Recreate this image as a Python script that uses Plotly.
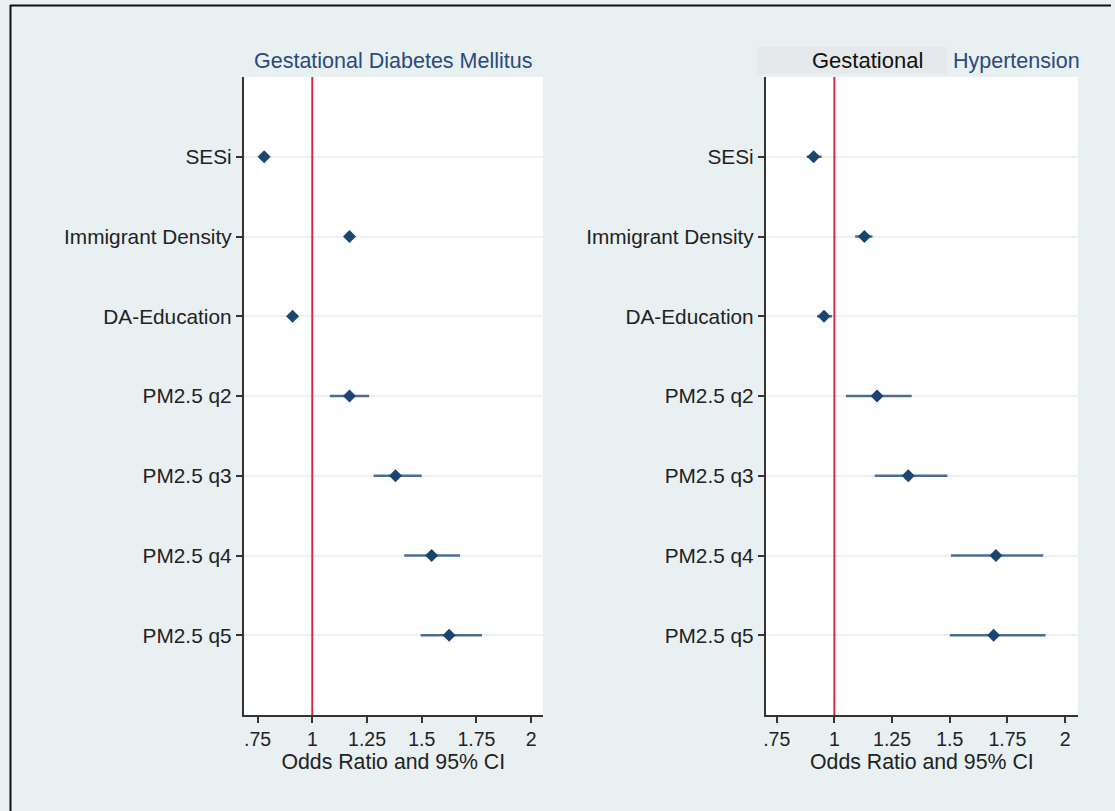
import plotly.graph_objects as go
from plotly.subplots import make_subplots

# Covariates shown on both panels (top to bottom)
covariates = ["SESi", "Immigrant Density", "DA-Education",
              "PM2.5 q2", "PM2.5 q3", "PM2.5 q4", "PM2.5 q5"]

# Gestational Diabetes Mellitus: odds ratios and 95% CI
gdm_or = [0.78, 1.17, 0.91, 1.17, 1.38, 1.545, 1.625]
gdm_lo = [0.77, 1.155, 0.90, 1.08, 1.28, 1.42, 1.495]
gdm_hi = [0.79, 1.185, 0.92, 1.26, 1.50, 1.675, 1.775]

# Gestational Hypertension: odds ratios and 95% CI
ght_or = [0.91, 1.13, 0.955, 1.185, 1.32, 1.70, 1.69]
ght_lo = [0.88, 1.09, 0.925, 1.05, 1.175, 1.505, 1.50]
ght_hi = [0.945, 1.165, 0.99, 1.335, 1.49, 1.905, 1.915]

tick_vals = [0.75, 1, 1.25, 1.5, 1.75, 2]
tick_text = [".75", "1", "1.25", "1.5", "1.75", "2"]

W, H = 1115, 811
NAVY = "#1a456f"
BAR = "#4d6d8e"
RED = "#d9264a"
BG = "#e8f0f2"
FONT = "Liberation Sans, Arial, sans-serif"

fig = make_subplots(rows=1, cols=2)

def add_panel(col, est, lo, hi):
    fig.add_trace(go.Scatter(
        x=est, y=covariates, mode="markers",
        marker=dict(symbol="diamond", size=10, color=NAVY),
        error_x=dict(type="data", symmetric=False,
                     array=[h - e for h, e in zip(hi, est)],
                     arrayminus=[e - l for e, l in zip(est, lo)],
                     color=BAR, thickness=2.5, width=0),
        showlegend=False, hoverinfo="x+y"), row=1, col=col)

add_panel(1, gdm_or, gdm_lo, gdm_hi)
add_panel(2, ght_or, ght_lo, ght_hi)

ydom = [1 - 715 / H, 1 - 77 / H]
axis_common = dict(
    tickmode="array", tickvals=tick_vals, ticktext=tick_text,
    ticks="outside", ticklen=6, tickwidth=1.5, tickcolor="#333",
    showline=True, linecolor="#333", linewidth=1.5, showgrid=False,
    zeroline=False, tickfont=dict(size=19.5, color="#222", family=FONT),
    title=dict(text="Odds Ratio and 95% CI",
               font=dict(size=21.3, color="#222", family=FONT), standoff=0),
)
fig.update_layout(
    xaxis=dict(domain=[242 / W, 542 / W], range=[0.686, 2.054], **axis_common),
    xaxis2=dict(domain=[765 / W, 1078 / W], range=[0.702, 2.056], **axis_common),
)
yaxis_common = dict(
    domain=ydom, type="category", categoryorder="array",
    categoryarray=covariates, range=[7, -1],
    ticks="outside", ticklen=6, tickwidth=1.5, tickcolor="#333",
    showline=True, linecolor="#333", linewidth=1.5,
    showgrid=True, gridcolor="#eaf2f2", gridwidth=1.5,
    tickfont=dict(size=20.8, color="#222", family=FONT),
)
fig.update_layout(yaxis=yaxis_common, yaxis2=yaxis_common)

# Reference line at OR = 1 in each panel
for xr, yr in (("x", "y"), ("x2", "y2")):
    fig.add_shape(type="line", xref=xr, yref=yr + " domain",
                  x0=1, x1=1, y0=0, y1=1, line=dict(color=RED, width=2))

# Outer frame (top and left edges)
fig.add_shape(type="line", xref="paper", yref="paper",
              x0=8 / W, x1=1111 / W, y0=1 - 5.5 / H, y1=1 - 5.5 / H,
              line=dict(color="#111", width=2))
fig.add_shape(type="line", xref="paper", yref="paper",
              x0=8.5 / W, x1=8.5 / W, y0=0, y1=1 - 5 / H,
              line=dict(color="#111", width=2))

# Panel titles
fig.add_annotation(text="Gestational Diabetes Mellitus", xref="paper", yref="paper",
                   x=392 / W, y=1 - 61 / H, xanchor="center", yanchor="middle",
                   showarrow=False,
                   font=dict(size=21.5, color="#2b4a7c", family=FONT))
fig.add_shape(type="rect", xref="paper", yref="paper", layer="below",
              x0=756 / W, x1=947 / W, y0=1 - 74 / H, y1=1 - 47 / H,
              fillcolor="#e6e9ec", line=dict(width=0))
fig.add_annotation(text="Gestational", xref="paper", yref="paper",
                   x=867 / W, y=1 - 61 / H, xanchor="center", yanchor="middle",
                   showarrow=False,
                   font=dict(size=22, color="#111", family=FONT))
fig.add_annotation(text="Hypertension", xref="paper", yref="paper",
                   x=1016 / W, y=1 - 61 / H, xanchor="center", yanchor="middle",
                   showarrow=False,
                   font=dict(size=21.5, color="#2b4a7c", family=FONT))

fig.update_layout(
    width=W, height=H, margin=dict(l=0, r=0, t=0, b=0),
    paper_bgcolor=BG, plot_bgcolor="white",
    font=dict(family=FONT),
)

fig.write_html("out.html")
